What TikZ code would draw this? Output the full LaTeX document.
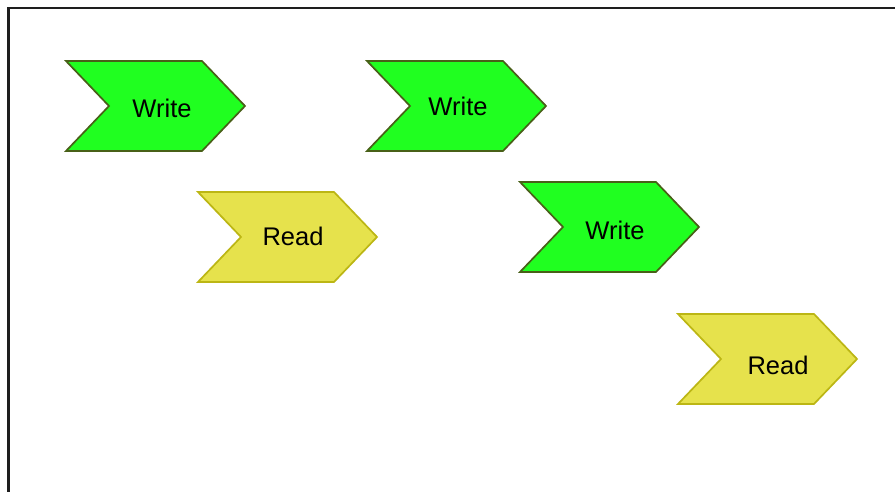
\documentclass[tikz,border=0pt]{standalone}
\usepackage{fontspec}
\setmainfont{Liberation Sans}
\definecolor{gfill}{RGB}{32,255,32}
\definecolor{gdraw}{RGB}{72,96,24}
\definecolor{yfill}{RGB}{230,226,76}
\definecolor{ydraw}{RGB}{188,182,20}
\definecolor{framec}{RGB}{30,30,30}
\tikzset{
  writebox/.style={fill=gfill,draw=gdraw,line width=1.7pt,line join=miter},
  readbox/.style={fill=yfill,draw=ydraw,line width=1.7pt,line join=miter},
  lbl/.style={font=\fontsize{25.5pt}{25.5pt}\selectfont,text=black,inner sep=0pt},
}
% #1 x-left (px), #2 y-top (px), #3 style, #4 name, #5 text, #6 text x, #7 text y
\newcommand\chevshape[7]{%
  \draw[#3] (#1pt,492pt-#2pt) -- ++(136pt,0) -- ++(43pt,-45pt) -- ++(-43pt,-45pt)
     -- ++(-136pt,0) -- ++(43pt,45pt) -- cycle;
  \node[lbl] (#4) at (#6pt,492pt-#7pt) {#5};
}
\begin{document}
\begin{tikzpicture}[x=1pt,y=1pt]
\useasboundingbox (0,0) rectangle (895,492);
\coordinate (fa) at (8.5,0);
\coordinate (fb) at (8.5,484);
\coordinate (fc) at (895,484);
\draw[framec,line width=2.3pt] (fa) -- (fb) -- (fc);
\chevshape{66}{61}{writebox}{w1}{Write}{162}{108}
\chevshape{367}{61}{writebox}{w2}{Write}{458}{106}
\chevshape{198}{192}{readbox}{r1}{Read}{293}{236}
\chevshape{520}{182}{writebox}{w3}{Write}{615}{230}
\chevshape{678}{314}{readbox}{r2}{Read}{778}{365}
\end{tikzpicture}
\end{document}
